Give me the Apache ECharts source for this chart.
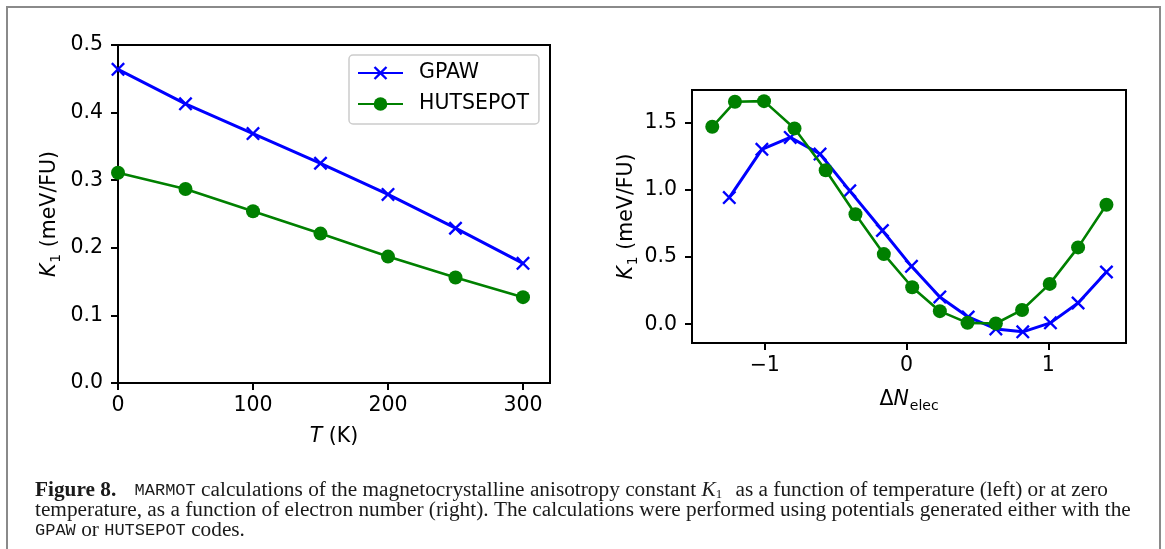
<!DOCTYPE html>
<html>
<head>
<meta charset="utf-8">
<script src="https://cdn.jsdelivr.net/npm/echarts@6/dist/echarts.min.js"></script>
<style>
html,body{margin:0;padding:0;background:#fff;}
#c{width:1165px;height:549px;}
</style>
</head>
<body>
<div id="c"></div>
<script>
// ---- data (left panel: K1 vs temperature) ----
const tempK = [0, 50, 100, 150, 200, 250, 300];
const gpawT = [0.464, 0.413, 0.369, 0.325, 0.279, 0.229, 0.177];
const hutT  = [0.311, 0.287, 0.254, 0.221, 0.187, 0.156, 0.127];
// ---- data (right panel: K1 vs electron number) ----
const dNGpaw = [-1.25, -1.02, -0.82, -0.61, -0.40, -0.17, 0.035, 0.235, 0.435, 0.63, 0.82, 1.015, 1.21, 1.41];
const gpawN  = [0.943, 1.302, 1.391, 1.267, 0.993, 0.698, 0.431, 0.203, 0.054, -0.035, -0.057, 0.010, 0.158, 0.389];
const dNHut  = [-1.37, -1.21, -1.005, -0.79, -0.57, -0.36, -0.16, 0.04, 0.235, 0.43, 0.63, 0.815, 1.01, 1.21, 1.41];
const hutN   = [1.470, 1.656, 1.661, 1.458, 1.146, 0.819, 0.522, 0.275, 0.097, 0.010, 0.005, 0.106, 0.300, 0.572, 0.889];
// ---- tick labels ----
const leftXTicks = [0, 100, 200, 300];
const leftYTicks = [0, 0.1, 0.2, 0.3, 0.4, 0.5];
const rightXTicks = [-1, 0, 1];
const rightYTicks = [0, 0.5, 1.0, 1.5];
const seriesNames = ['GPAW', 'HUTSEPOT'];

const FONT = 'DejaVu Sans';
const FS = 20.5;
const BLUE = '#0000ff', GREEN = '#008000';
const XSYM = 'path://M0,1.2L1.2,0L5,3.8L8.8,0L10,1.2L6.2,5L10,8.8L8.8,10L5,6.2L1.2,10L0,8.8L3.8,5Z';

const pair = (xs, ys) => xs.map((x, i) => [x, ys[i]]);
const nameRich = {
  i: {fontStyle: 'italic', fontSize: FS, fontFamily: FONT, color: '#000'},
  s: {fontSize: 14, fontFamily: FONT, color: '#000', padding: [12, 0, 0, 1]}
};
const minusFmt = v => (v < 0 ? '\u2212' + Math.abs(v) : String(v));
const tick = vals => ({show: true, inside: false, length: 7, lineStyle: {color: '#000', width: 2}, customValues: vals});
const label = (vals, margin, fmt) => ({color: '#000', fontSize: FS, fontFamily: FONT, margin: margin, customValues: vals, formatter: fmt});

function vAxis(extra) {
  return Object.assign({
    type: 'value',
    axisLine: {show: false, onZero: false},
    splitLine: {show: false},
    nameLocation: 'middle',
    nameTextStyle: {color: '#000', fontSize: FS, fontFamily: FONT, rich: nameRich}
  }, extra);
}

const CAP = '#1a1a1a';
const SERIF = 'Liberation Serif';
const CFS = 21.3;
const MFS = 17;

const chart = echarts.init(document.getElementById('c'), null, {renderer: 'canvas'});
chart.setOption({
  animation: false,
  backgroundColor: '#fff',
  grid: [
    {left: 118, top: 45, width: 432, height: 338, show: true, borderColor: '#000', borderWidth: 2, backgroundColor: 'transparent'},
    {left: 692, top: 90, width: 434, height: 253, show: true, borderColor: '#000', borderWidth: 2, backgroundColor: 'transparent'}
  ],
  xAxis: [
    vAxis({gridIndex: 0, min: 0, max: 320, axisTick: tick(leftXTicks),
      axisLabel: label(leftXTicks, 12, v => String(v)),
      name: '{i|T} (K)', nameGap: 43}),
    vAxis({gridIndex: 1, min: -1.513, max: 1.548, axisTick: tick(rightXTicks),
      axisLabel: label(rightXTicks, 12, minusFmt),
      name: '\u0394{i|N}{s|elec}', nameGap: 44})
  ],
  yAxis: [
    vAxis({gridIndex: 0, min: 0, max: 0.5, axisTick: tick(leftYTicks),
      axisLabel: label(leftYTicks, 15, v => v.toFixed(1)),
      name: '{i|K}{s|1} (meV/FU)', nameGap: 55, nameRotate: 90}),
    vAxis({gridIndex: 1, min: -0.14, max: 1.744, axisTick: tick(rightYTicks),
      axisLabel: label(rightYTicks, 15, v => v.toFixed(1)),
      name: '{i|K}{s|1} (meV/FU)', nameGap: 52, nameRotate: 90})
  ],
  legend: {
    data: seriesNames,
    orient: 'vertical',
    left: 349, top: 55,
    itemWidth: 45, itemHeight: 17, itemGap: 9,
    padding: [7, 10, 9, 8],
    backgroundColor: 'rgba(255,255,255,0.8)',
    borderColor: '#cccccc', borderWidth: 1.5, borderRadius: 4,
    textStyle: {color: '#000', fontSize: FS, fontFamily: FONT, lineHeight: 22, padding: [0, 0, 0, 11]}
  },
  series: [
    {name: seriesNames[0], type: 'line', xAxisIndex: 0, yAxisIndex: 0, data: pair(tempK, gpawT),
     symbol: XSYM, symbolSize: 14, lineStyle: {color: BLUE, width: 3}, itemStyle: {color: BLUE, borderWidth: 0}, z: 3},
    {name: seriesNames[1], type: 'line', xAxisIndex: 0, yAxisIndex: 0, data: pair(tempK, hutT),
     symbol: 'circle', symbolSize: 14, lineStyle: {color: GREEN, width: 2.6}, itemStyle: {color: GREEN, borderWidth: 0}, z: 4},
    {name: seriesNames[0], type: 'line', xAxisIndex: 1, yAxisIndex: 1, data: pair(dNGpaw, gpawN),
     symbol: XSYM, symbolSize: 14, lineStyle: {color: BLUE, width: 3}, itemStyle: {color: BLUE, borderWidth: 0}, z: 3},
    {name: seriesNames[1], type: 'line', xAxisIndex: 1, yAxisIndex: 1, data: pair(dNHut, hutN),
     symbol: 'circle', symbolSize: 14, lineStyle: {color: GREEN, width: 2.6}, itemStyle: {color: GREEN, borderWidth: 0}, z: 4}
  ],
  graphic: [
    {type: 'rect', shape: {x: 7, y: 7, width: 1153, height: 620}, style: {fill: 'none', stroke: '#8a8a8a', lineWidth: 2}, silent: true},
    {type: 'text', x: 35, y: 479, style: {
      text: '{b|Figure 8.} {m|MARMOT} calculations of the magnetocrystalline anisotropy constant {i|K}{s|1} as a function of temperature (left) or at zero',
      font: CFS + 'px "' + SERIF + '"', fill: CAP,
      rich: {
        b: {fontWeight: 'bold', fontSize: CFS, fontFamily: SERIF, fill: CAP, padding: [0, 13, 0, 0]},
        m: {fontSize: MFS, fontFamily: 'Liberation Mono', fill: CAP},
        i: {fontStyle: 'italic', fontSize: CFS, fontFamily: SERIF, fill: CAP},
        s: {fontSize: 13, fontFamily: SERIF, fill: CAP, padding: [9, 8, 0, 0]}
      }}},
    {type: 'text', x: 35, y: 500, style: {
      text: 'temperature, as a function of electron number (right). The calculations were performed using potentials generated either with the',
      font: CFS + 'px "' + SERIF + '"', fill: CAP}},
    {type: 'text', x: 35, y: 520, style: {
      text: '{m|GPAW} or {m|HUTSEPOT} codes.',
      font: CFS + 'px "' + SERIF + '"', fill: CAP,
      rich: {m: {fontSize: MFS, fontFamily: 'Liberation Mono', fill: CAP}}}}
  ]
});
</script>
</body>
</html>
